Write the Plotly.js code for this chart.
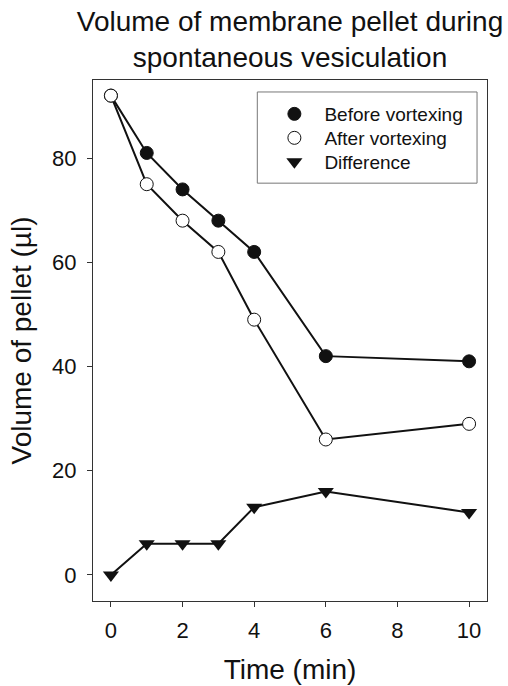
<!DOCTYPE html>
<html>
<head>
<meta charset="utf-8">
<script src="https://cdn.plot.ly/plotly-3.0.1.min.js"></script>
<style>html,body{margin:0;padding:0;background:#fff;}#chart{width:508px;height:686px;}</style>
</head>
<body>
<div id="chart"></div>
<script>
const timeMin = [0, 1, 2, 3, 4, 6, 10];
const beforeVortexing = [92, 81, 74, 68, 62, 42, 41];
const afterVortexing = [92, 75, 68, 62, 49, 26, 29];
const difference = [0, 6, 6, 6, 13, 16, 12];
const seriesNames = ['Before vortexing', 'After vortexing', 'Difference'];
const xTicks = [0, 2, 4, 6, 8, 10];
const yTicks = [0, 20, 40, 60, 80];

const FONT = 'Arial, "Liberation Sans", Helvetica, sans-serif';
const series = [beforeVortexing, afterVortexing, difference];
const markerDefs = [
  {symbol: 'circle', color: '#111', size: 13, line: {color: '#111', width: 1}},
  {symbol: 'circle', color: '#fff', size: 13, line: {color: '#111', width: 1}},
  {symbol: 'triangle-down', color: '#111', size: 14, line: {color: '#111', width: 0}}
];
const legendIds = ['legend', 'legend2', 'legend3'];
const legendRowY = [0.9347, 0.8887, 0.8426];

const traces = [];
series.forEach((ys, i) => {
  traces.push({x: timeMin, y: ys, mode: 'lines', showlegend: false, hoverinfo: 'skip',
    line: {color: '#111', width: 2}});
});
series.forEach((ys, i) => {
  traces.push({x: timeMin, y: ys, mode: 'markers', name: seriesNames[i], marker: markerDefs[i],
    legend: legendIds[i]});
});

const layout = {
  width: 508, height: 686,
  margin: {l: 92.5, r: 21, t: 80, b: 85},
  paper_bgcolor: '#fff', plot_bgcolor: '#fff',
  font: {family: FONT, color: '#111'},
  title: {text: 'Volume of membrane pellet during<br>spontaneous vesiculation',
    x: 0.5, xref: 'paper', xanchor: 'center', y: 0.955, yref: 'container', yanchor: 'top',
    font: {size: 28, family: FONT, color: '#111'}},
  xaxis: {range: [-0.5, 10.5], tickvals: xTicks, ticks: 'outside', ticklen: 5, tickcolor: '#333',
    showline: true, mirror: true, linecolor: '#333', linewidth: 1, showgrid: false, zeroline: false,
    ticklabelstandoff: 5,
    tickfont: {size: 22}, title: {text: 'Time (min)', font: {size: 28}, standoff: 16}},
  yaxis: {range: [-5, 95], tickvals: yTicks, ticks: 'outside', ticklen: 5, tickcolor: '#333',
    showline: true, mirror: true, linecolor: '#333', linewidth: 1, showgrid: false, zeroline: false,
    ticklabelstandoff: 6,
    tickfont: {size: 22}, title: {text: 'Volume of pellet (µl)', font: {size: 28}, standoff: 12}},
  showlegend: true,
  shapes: [{type: 'rect', xref: 'paper', yref: 'paper', x0: 0.417, x1: 0.9747, y0: 0.802, y1: 0.977,
    line: {color: '#777', width: 1}, fillcolor: 'rgba(0,0,0,0)', layer: 'above'}]
};
legendIds.forEach((id, i) => {
  layout[id] = {x: 0.435, y: legendRowY[i], xanchor: 'left', yanchor: 'middle', bgcolor: 'rgba(0,0,0,0)',
    borderwidth: 0, itemwidth: 50, font: {size: 19, family: FONT, color: '#111'}};
});

Plotly.newPlot('chart', traces, layout, {displayModeBar: false, staticPlot: true});
</script>
</body>
</html>
